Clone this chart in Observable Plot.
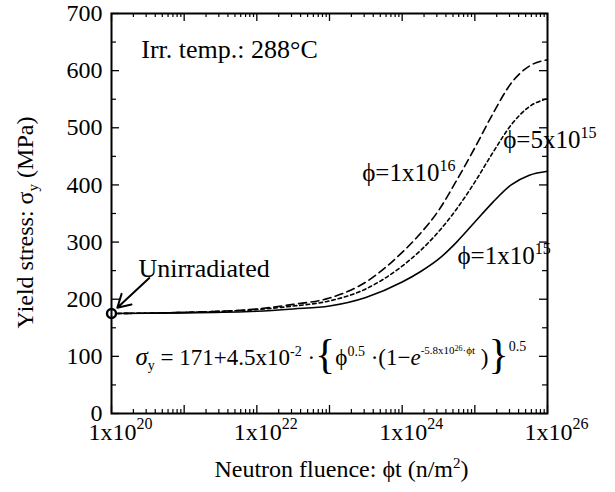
<!DOCTYPE html>
<html><head><meta charset="utf-8">
<script src="https://cdn.jsdelivr.net/npm/d3@7"></script>
<script src="https://cdn.jsdelivr.net/npm/@observablehq/plot@0.6"></script>
<style>
body{margin:0;background:#fff}
svg{font-family:"Liberation Serif","Times New Roman",serif}
</style>
</head><body><div id="chart"></div>
<script>
// ---- data ----
const logFluence = [20, 21, 22, 22.5, 23, 23.5, 24, 24.25, 24.5, 24.75, 25, 25.25, 25.5, 25.75, 26];
const stressFlux1e15 = [175, 176, 179, 183, 188, 203, 230, 248, 270, 300, 335, 370, 400, 417, 424];
const stressFlux5e15 = [175, 177, 182, 188, 197, 218, 258, 285, 318, 358, 405, 457, 505, 537, 551];
const stressFlux1e16 = [175, 177, 183, 191, 202, 230, 282, 315, 355, 408, 465, 525, 578, 608, 619];
const unirradiated = [{fluence: 1e20, stress: 175}];
const yTickValues = [0, 100, 200, 300, 400, 500, 600, 700];
const yMinorValues = [50, 150, 250, 350, 450, 550, 650];
const xLabelExponents = [20, 22, 24, 26];
const xMajorExponents = [20, 21, 22, 23, 24, 25, 26];

// annotation anchors (log10 fluence, stress)
const annotations = [
  {key: "temp", lx: 20.41, v: 636, size: 26},
  {key: "unirr", lx: 20.37, v: 254, size: 26},
  {key: "p16", lx: 23.45, v: 421, size: 25},
  {key: "p5", lx: 25.39, v: 478, size: 25},
  {key: "p15", lx: 24.76, v: 276, size: 25},
  {key: "formula", lx: 20.33, v: 98, size: 23}
];
const sup = (t, s = 16, d = -10) => `<tspan font-size="${s}" dy="${d}">${t}</tspan>`;
const rich = {
  temp: "Irr. temp.: 288°C",
  unirr: "Unirradiated",
  p16: "ϕ=1x10" + sup("16"),
  p5: "ϕ=5x10" + sup("15"),
  p15: "ϕ=1x10" + sup("15"),
  formula: `<tspan font-style="italic" font-size="25">σ</tspan><tspan font-size="14" dy="5">y</tspan><tspan dy="-5"> = 171+4.5x10</tspan><tspan font-size="14" dy="-9">-2</tspan><tspan dy="9"> ·</tspan><tspan font-size="42" dy="3" font-weight="100">{</tspan><tspan dy="-3">ϕ</tspan><tspan font-size="14" dy="-9">0.5</tspan><tspan dy="9"> ·(1−</tspan><tspan font-style="italic">e</tspan><tspan font-size="11" dy="-11">-5.8x10</tspan><tspan font-size="8" dy="-3">26</tspan><tspan font-size="11" dy="3">·ϕt</tspan><tspan dy="11"> )</tspan><tspan font-size="42" dy="3" font-weight="100">}</tspan><tspan font-size="14" dy="-17">0.5</tspan>`
};
for (let e of xLabelExponents) rich["x" + e] = "1x10" + sup(String(e), 16, -11);
rich.xtitle = "Neutron fluence: ϕt (n/m" + sup("2", 15, -9) + `<tspan dy="9">)</tspan>`;
rich.ytitle = `Yield stress: σ<tspan font-size="15" dy="5">y</tspan><tspan dy="-5"> (MPa)</tspan>`;

// ---- build rows ----
const mk = (vals, s) => logFluence.map((lx, i) => ({fluence: 10 ** lx, stress: vals[i], s}));
const rows1 = mk(stressFlux1e15, "1e15");
const rows5 = mk(stressFlux5e15, "5e15");
const rows16 = mk(stressFlux1e16, "1e16");

const xMajor = xMajorExponents.map(e => 10 ** e);
const xMinor = [];
for (let e = 20; e < 26; e++) for (let m = 2; m <= 9; m++) xMinor.push(m * 10 ** e);

const W = 615, H = 492, mL = 111, mR = 68, mT = 13, mB = 79;
const fw = W - mL - mR, fh = H - mT - mB;

const lineOpts = {x: "fluence", y: "stress", stroke: "black", strokeWidth: 1.6, curve: "monotone-x"};

const svg = Plot.plot({
  width: W, height: H,
  marginLeft: mL, marginRight: mR, marginTop: mT, marginBottom: mB,
  style: {background: "white", fontFamily: "Liberation Serif, serif", fontSize: "24px", overflow: "visible"},
  x: {type: "log", domain: [1e20, 1e26], axis: null},
  y: {domain: [0, 700], axis: null},
  marks: [
    // ticks (inward)
    Plot.tickX(xMajor, {x: d => d, insetTop: fh - 8, stroke: "black", strokeWidth: 1.3}),
    Plot.tickX(xMajor, {x: d => d, insetBottom: fh - 8, stroke: "black", strokeWidth: 1.3}),
    Plot.tickX(xMinor, {x: d => d, insetTop: fh - 4, stroke: "black", strokeWidth: 1.2}),
    Plot.tickX(xMinor, {x: d => d, insetBottom: fh - 4, stroke: "black", strokeWidth: 1.2}),
    Plot.tickY(yTickValues, {y: d => d, insetRight: fw - 8, stroke: "black", strokeWidth: 1.3}),
    Plot.tickY(yTickValues, {y: d => d, insetLeft: fw - 8, stroke: "black", strokeWidth: 1.3}),
    Plot.tickY(yMinorValues, {y: d => d, insetRight: fw - 5, stroke: "black", strokeWidth: 1.2}),
    Plot.tickY(yMinorValues, {y: d => d, insetLeft: fw - 5, stroke: "black", strokeWidth: 1.2}),
    // tick labels
    Plot.text(yTickValues, {y: d => d, frameAnchor: "left", text: d => String(d), textAnchor: "end", lineAnchor: "middle", dx: -9, fontSize: 24}),
    Plot.text(xLabelExponents, {x: d => 10 ** d, frameAnchor: "bottom", text: d => "x" + d, textAnchor: "middle", lineAnchor: "bottom", dy: 26, dx: 9, fontSize: 24}),
    // axis titles
    Plot.text(["xtitle"], {frameAnchor: "bottom", text: d => d, textAnchor: "middle", lineAnchor: "bottom", dy: 63, dx: 12, fontSize: 24}),
    Plot.text(["ytitle"], {frameAnchor: "left", text: d => d, textAnchor: "middle", lineAnchor: "middle", dx: -86, dy: 9, rotate: -90, fontSize: 24}),
    // curves
    Plot.line(rows1, {...lineOpts}),
    Plot.line(rows5, {...lineOpts, strokeDasharray: "3.5,3"}),
    Plot.line(rows16, {...lineOpts, strokeDasharray: "8,4.5"}),
    // unirradiated point + arrow
    Plot.dot(unirradiated, {x: "fluence", y: "stress", r: 4.5, stroke: "black", strokeWidth: 2.4, fill: "white"}),
    Plot.arrow(unirradiated, {x1: d => d.fluence * 10 ** 0.52, y1: d => d.stress + 62, x2: d => d.fluence * 10 ** 0.08, y2: d => d.stress + 10, stroke: "black", strokeWidth: 2, headLength: 18}),
    // annotations
    Plot.text(annotations, {x: d => 10 ** d.lx, y: "v", text: "key", textAnchor: "start", lineAnchor: "middle", fontSize: "size"}),
    Plot.frame({stroke: "black", strokeWidth: 2})
  ]
});

// replace keys with rich text (tspans)
d3.select(svg).selectAll("text").each(function() {
  const k = this.textContent;
  if (rich[k] !== undefined) this.innerHTML = rich[k];
});
document.getElementById("chart").appendChild(svg);
</script>
</body></html>
